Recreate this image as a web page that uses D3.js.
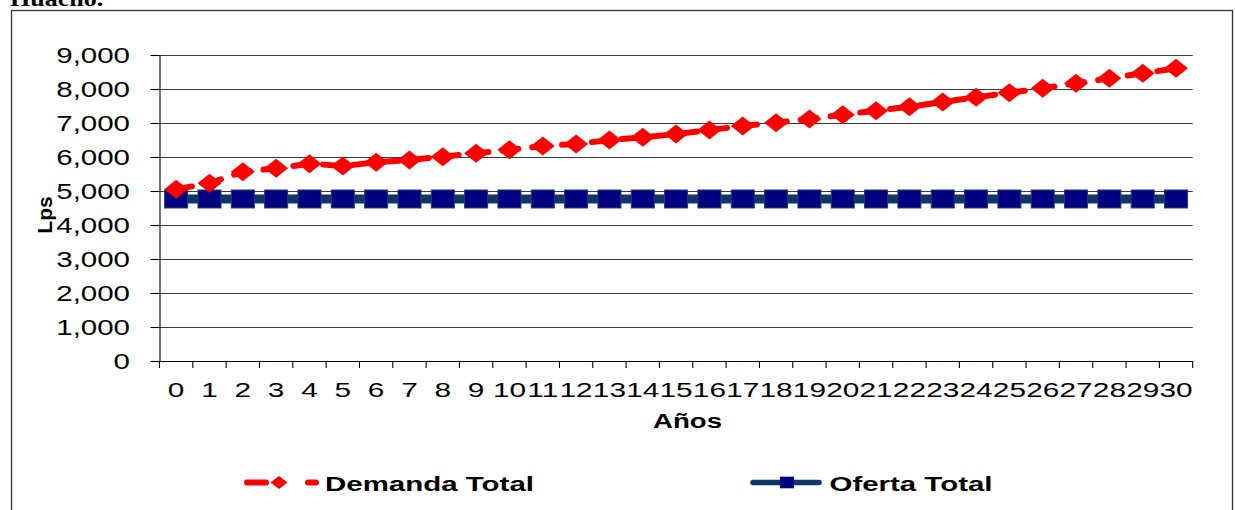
<!DOCTYPE html>
<html><head><meta charset="utf-8">
<script src="https://cdn.jsdelivr.net/npm/d3@7"></script>
<style>
html,body{margin:0;padding:0;background:#fff;}
svg{display:block;font-family:"Liberation Sans",Arial,sans-serif;}
</style></head>
<body>
<svg id="chart" width="1235" height="510"></svg>
<script>
const years = d3.range(0, 31).map(String);
const demanda = [5050,5230,5568,5667,5804,5735,5843,5912,6010,6108,6215,6324,6382,6500,6579,6676,6794,6912,7010,7118,7245,7363,7480,7618,7755,7892,8020,8167,8314,8461,8608];
const oferta = [4765,4765,4765,4765,4765,4765,4765,4765,4765,4765,4765,4765,4765,4765,4765,4765,4765,4765,4765,4765,4765,4765,4765,4765,4765,4765,4765,4765,4765,4765,4765];
const yTicks = [0,1000,2000,3000,4000,5000,6000,7000,8000,9000];
const seriesNames = ["Demanda Total","Oferta Total"];
const titleText = "Huacho.";
const yTitle = "Lps";
const xTitle = "Años";

const svg = d3.select("#chart");
const pL = 159.5, pR = 1192.7, pT = 55, pB = 361;

const x = d3.scaleBand().domain(years).range([pL, pR]).padding(0);
const y = d3.scaleLinear().domain([0, 9000]).range([pB, pT]);

// outer frame
svg.append("rect").attr("x", 11.5).attr("y", 10.5).attr("width", 1221).attr("height", 520)
  .attr("fill", "none").attr("stroke", "#333").attr("stroke-width", 1.3);

// clipped title (cut off at the top edge, as in the source)
svg.append("text").attr("transform", "translate(10,5.5) scale(1.3,1)")
  .attr("font-family", "'Liberation Serif','Times New Roman',serif")
  .attr("font-weight", "bold").attr("font-size", 20).attr("fill", "#000").text(titleText);

// gridlines
svg.append("g").selectAll("line").data(yTicks.filter(d => d > 0)).join("line")
  .attr("x1", pL).attr("x2", pR)
  .attr("y1", d => Math.round(y(d)) + 0.5).attr("y2", d => Math.round(y(d)) + 0.5)
  .attr("stroke", "#3a3a3a").attr("stroke-width", 1);

// y axis
const yAxis = svg.append("g").attr("transform", `translate(${pL},0)`)
  .call(d3.axisLeft(y).tickValues(yTicks).tickSize(9).tickFormat(""));
yAxis.selectAll("path,line").attr("stroke", "#000").attr("stroke-width", 1.1);
yAxis.select(".domain").attr("d", `M0.5,${pT}V${pB}`);

svg.append("g").selectAll("text").data(yTicks).join("text")
  .attr("transform", d => `translate(130,${y(d) + 7.9}) scale(1.34,1)`)
  .attr("text-anchor", "end").attr("font-size", 22).attr("fill", "#000")
  .text(d => d3.format(",")(d));

// x axis
const xAxis = svg.append("g").attr("transform", `translate(0,${pB})`)
  .call(d3.axisBottom(x).tickSize(0).tickFormat(""));
xAxis.selectAll("path,line").attr("stroke", "#000").attr("stroke-width", 1.1);
xAxis.select(".domain").attr("d", `M${pL},0.5H${pR}`);
const bounds = years.map(d => x(d)).concat([pR]);
svg.append("g").selectAll("line").data(bounds).join("line")
  .attr("x1", d => d).attr("x2", d => d).attr("y1", pB).attr("y2", pB + 7)
  .attr("stroke", "#000").attr("stroke-width", 1.1);

svg.append("g").selectAll("text").data(years).join("text")
  .attr("transform", d => `translate(${x(d) + x.bandwidth() / 2},397) scale(1.42,1)`)
  .attr("text-anchor", "middle").attr("font-size", 21).attr("fill", "#000")
  .text(d => d);

// axis titles
svg.append("text").attr("transform", "translate(687.5,428) scale(1.38,1)")
  .attr("text-anchor", "middle").attr("font-weight", "bold").attr("font-size", 20).text(xTitle);
svg.append("text").attr("transform", "translate(52,215) rotate(-90)")
  .attr("text-anchor", "middle").attr("font-weight", "bold").attr("font-size", 21).text(yTitle);

const cx = d => x(d) + x.bandwidth() / 2;

// oferta series
const ofertaLine = d3.line().x((d, i) => cx(years[i])).y(d => y(d));
svg.append("path").datum(oferta).attr("d", ofertaLine)
  .attr("fill", "none").attr("stroke", "#0d3568").attr("stroke-width", 9);
svg.append("g").selectAll("rect").data(oferta).join("rect")
  .attr("x", (d, i) => cx(years[i]) - 11.5).attr("y", d => y(d) - 9)
  .attr("width", 23).attr("height", 18)
  .attr("fill", "#000080").attr("stroke", "#1c3f74").attr("stroke-width", 1);

// demanda series
const demLine = d3.line().x((d, i) => cx(years[i])).y(d => y(d));
svg.append("path").datum(demanda).attr("d", demLine)
  .attr("fill", "none").attr("stroke", "#ff0000").attr("stroke-width", 6)
  .attr("stroke-linecap", "round").attr("stroke-dasharray", "16,14");
const diamond = (w, h) => `M0,${-h/2}L${w/2},0L0,${h/2}L${-w/2},0Z`;
svg.append("g").selectAll("path").data(demanda).join("path")
  .attr("transform", (d, i) => `translate(${cx(years[i])},${y(d)})`)
  .attr("d", diamond(24, 19)).attr("fill", "#ff0000");

// legend
const lg = svg.append("g");
const ly = 482.5;
lg.append("line").attr("x1", 247).attr("x2", 266).attr("y1", ly).attr("y2", ly)
  .attr("stroke", "#ff0000").attr("stroke-width", 6).attr("stroke-linecap", "round");
lg.append("line").attr("x1", 308).attr("x2", 316).attr("y1", ly).attr("y2", ly)
  .attr("stroke", "#ff0000").attr("stroke-width", 6).attr("stroke-linecap", "round");
lg.append("path").attr("transform", `translate(279,${ly})`).attr("d", diamond(17, 13)).attr("fill", "#ff0000");
lg.append("text").attr("x", 325).attr("y", 490.5).attr("font-weight", "bold").attr("font-size", 21)
  .attr("textLength", 209).attr("lengthAdjust", "spacingAndGlyphs").text(seriesNames[0]);

lg.append("line").attr("x1", 753).attr("x2", 819).attr("y1", ly).attr("y2", ly)
  .attr("stroke", "#0d3568").attr("stroke-width", 5.5).attr("stroke-linecap", "round");
lg.append("rect").attr("x", 780).attr("y", 476.7).attr("width", 14).attr("height", 11.6).attr("fill", "#000080");
lg.append("text").attr("x", 829.5).attr("y", 490.5).attr("font-weight", "bold").attr("font-size", 21)
  .attr("textLength", 163).attr("lengthAdjust", "spacingAndGlyphs").text(seriesNames[1]);
</script>
</body></html>
